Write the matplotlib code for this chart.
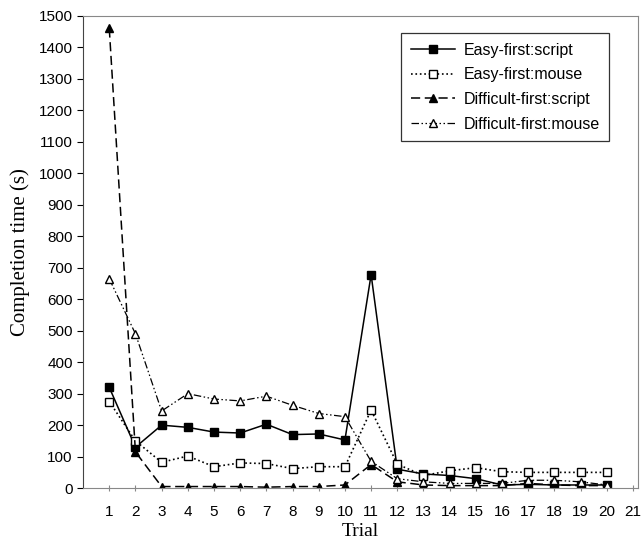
import matplotlib
matplotlib.use('Agg')
import matplotlib.pyplot as plt

plt.rcParams['font.family'] = ['Liberation Sans', 'DejaVu Sans']

trials = list(range(1, 21))
easy_script = [320, 130, 200, 193, 178, 175, 203, 170, 172, 153,
               678, 60, 45, 40, 30, 10, 12, 10, 10, 10]
easy_mouse = [275, 150, 82, 102, 68, 80, 78, 62, 68, 68,
              248, 76, 40, 55, 65, 52, 50, 50, 50, 50]
diff_script = [1460, 115, 5, 5, 5, 5, 3, 5, 5, 10,
               75, 20, 10, 8, 8, 8, 15, 10, 8, 8]
diff_mouse = [665, 490, 245, 300, 283, 277, 292, 263, 237, 227,
              85, 30, 20, 15, 15, 15, 25, 25, 20, 10]

fig = plt.figure(figsize=(6.44, 5.46), dpi=100)
ax = fig.add_axes([0.129, 0.106, 0.862, 0.865])

ax.plot(trials, easy_script, '-', color='black', lw=1.1, marker='s', ms=5.5,
        mfc='black', label='Easy-first:script')
ax.plot(trials, easy_mouse, ':', color='black', lw=1.2, marker='s', ms=5.5,
        mfc='white', label='Easy-first:mouse')
ax.plot(trials, diff_script, color='black', lw=1.1, dashes=(6, 3), marker='^', ms=6,
        mfc='black', label='Difficult-first:script')
ax.plot(trials, diff_mouse, color='black', lw=0.9, dashes=(6, 2, 1.2, 2, 1.2, 2),
        marker='^', ms=6, mfc='white', label='Difficult-first:mouse')

ax.set_xlim(0, 21.2)
ax.set_ylim(0, 1500)
ax.set_xticks(range(1, 22))
ax.set_yticks(range(0, 1501, 100))
ax.tick_params(axis='x', length=4, direction='inout', color='#888888', labelsize=11, pad=10)
ax.tick_params(axis='y', length=4, labelsize=11)

for s in ['top', 'right']:
    ax.spines[s].set_color('#888888')
ax.spines['left'].set_color('#444444')
ax.spines['bottom'].set_color('#888888')

ax.set_xlabel('Trial', family=['Liberation Serif'], fontsize=14, labelpad=3)
ax.set_ylabel('Completion time (s)', family=['Liberation Serif'], fontsize=15, labelpad=6)

leg = ax.legend(loc='upper right', bbox_to_anchor=(0.962, 0.98), fontsize=11.5,
                frameon=True, fancybox=False, edgecolor='black', handlelength=2.8,
                borderpad=0.6, labelspacing=0.6, handletextpad=0.5)
leg.get_frame().set_linewidth(0.9)

fig.savefig('out.png', dpi=100)
